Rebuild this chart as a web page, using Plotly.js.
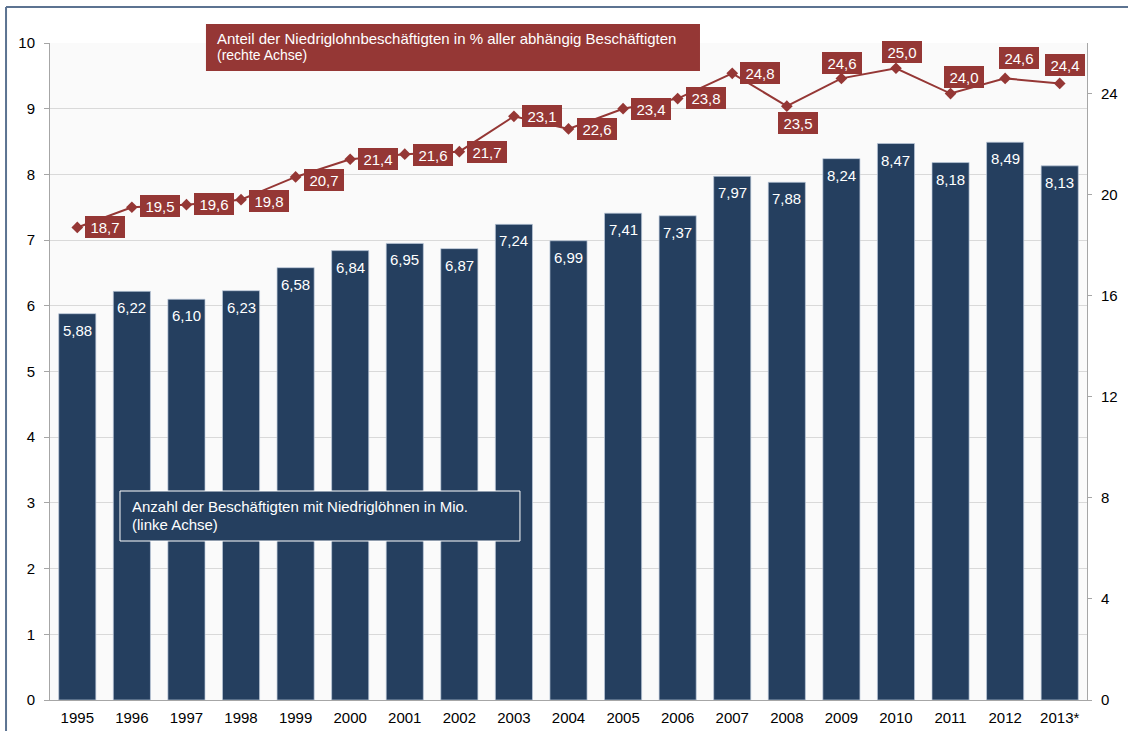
<!DOCTYPE html>
<html>
<head>
<meta charset="utf-8">
<script src="https://cdn.plot.ly/plotly-3.0.1.min.js"></script>
<style>
  html, body { margin: 0; padding: 0; background: #ffffff; }
  #chart { width: 1128px; height: 731px; }
</style>
</head>
<body>
<div id="chart"></div>
<script>
// Niedriglohnbeschäftigte in Deutschland, 1995–2013
const years = ['1995', '1996', '1997', '1998', '1999', '2000', '2001', '2002', '2003', '2004',
    '2005', '2006', '2007', '2008', '2009', '2010', '2011', '2012', '2013*'];
const workersMio = [5.88, 6.22, 6.10, 6.23, 6.58, 6.84, 6.95, 6.87, 7.24, 6.99,
    7.41, 7.37, 7.97, 7.88, 8.24, 8.47, 8.18, 8.49, 8.13];
const sharePct = [18.7, 19.5, 19.6, 19.8, 20.7, 21.4, 21.6, 21.7, 23.1, 22.6,
    23.4, 23.8, 24.8, 23.5, 24.6, 25.0, 24.0, 24.6, 24.4];

const shareTitle = 'Anteil der Niedriglohnbeschäftigten in % aller abhängig Beschäftigten';
const shareNote = '(rechte Achse)';
const workersTitle = 'Anzahl der Beschäftigten mit Niedriglöhnen in Mio.';
const workersNote = '(linke Achse)';

// label box offsets from each line point, in pixels [dx, dy down]
const labelShift = [[28, 0], [28, -1], [28, -1], [28, 1], [28, 3], [28, 0], [28, 1], [28, 0],
    [28, 0], [28, 0], [28, 0], [28, -1], [28, 0], [11, 17], [1, -15], [6, -16], [13, -17],
    [14, -20], [5, -18]];

const NAVY = '#253f5f';
const RED = '#953735';
const AXIS_GREY = '#a6a6a6';
const FONT = 'Liberation Sans, Arial, sans-serif';

const fmt = (v, d) => v.toFixed(d).replace('.', ',');

const bars = {
    type: 'bar',
    x: years,
    y: workersMio,
    marker: { color: NAVY, line: { color: 'rgba(190,202,220,0.7)', width: 1 } },
    hoverinfo: 'x+y',
    showlegend: false,
};

const line = {
    type: 'scatter',
    mode: 'lines+markers',
    x: years,
    y: sharePct,
    yaxis: 'y2',
    line: { color: RED, width: 2 },
    marker: { symbol: 'diamond', size: 9, color: RED },
    hoverinfo: 'x+y',
    showlegend: false,
};

const annotations = [];

// value labels inside the bar tops (x given as category index)
years.forEach((yr, i) => {
    annotations.push({
        x: i, y: workersMio[i], xref: 'x', yref: 'y',
        text: fmt(workersMio[i], 2),
        showarrow: false, yanchor: 'top', yshift: -6,
        font: { family: FONT, size: 15, color: '#ffffff' },
    });
});

// red boxed labels for the share line
years.forEach((yr, i) => {
    annotations.push({
        x: i, y: sharePct[i], xref: 'x', yref: 'y2',
        text: fmt(sharePct[i], 1),
        showarrow: false, xanchor: 'center', yanchor: 'middle',
        xshift: labelShift[i][0], yshift: -labelShift[i][1],
        width: 36, height: 18, borderpad: 2, borderwidth: 0,
        bgcolor: RED,
        font: { family: FONT, size: 15, color: '#ffffff' },
    });
});

// caption texts (boxes are shapes below)
const caption = (text, x, y, size) => ({
    xref: 'paper', yref: 'paper', x: x, y: y,
    xanchor: 'left', yanchor: 'middle', align: 'left',
    text: text, showarrow: false, borderpad: 0, borderwidth: 0,
    font: { family: FONT, size: size, color: '#ffffff' },
});
annotations.push(caption(shareTitle, 0.161, 1.0068, 15));
annotations.push(caption(shareNote, 0.161, 0.981, 14));
annotations.push(caption(workersTitle, 0.0791, 0.2938, 15));
annotations.push(caption(workersNote, 0.0791, 0.2664, 15));

const layout = {
    width: 1128,
    height: 731,
    margin: { l: 50, r: 41, t: 43, b: 31 },
    paper_bgcolor: '#ffffff',
    plot_bgcolor: '#fafafa',
    font: { family: FONT, size: 15, color: '#000000' },
    bargap: 0.32,
    xaxis: {
        type: 'category',
        range: [-0.5, years.length - 0.5],
        showline: true, linecolor: AXIS_GREY, linewidth: 1,
        ticks: '', ticklabelstandoff: 4,
        tickfont: { family: FONT, size: 15, color: '#000000' },
        showgrid: false, zeroline: false,
    },
    yaxis: {
        range: [0, 10], dtick: 1,
        showline: true, linecolor: AXIS_GREY, linewidth: 1,
        ticks: 'outside', ticklen: 5, tickcolor: AXIS_GREY,
        ticklabelstandoff: 6,
        gridcolor: '#d9d9d9', gridwidth: 1, zeroline: false,
        tickfont: { family: FONT, size: 15, color: '#000000' },
    },
    yaxis2: {
        range: [0, 26], dtick: 4,
        overlaying: 'y', side: 'right',
        showline: true, linecolor: AXIS_GREY, linewidth: 1,
        ticks: 'outside', ticklen: 4, tickcolor: AXIS_GREY,
        ticklabelstandoff: 6,
        showgrid: false, zeroline: false,
        tickfont: { family: FONT, size: 15, color: '#000000' },
    },
    shapes: [
        // outer frame
        { type: 'line', xref: 'paper', yref: 'paper', x0: -0.0424, x1: -0.0424, y0: -0.1, y1: 1.0548,
          line: { color: '#5c7391', width: 2 } },
        { type: 'line', xref: 'paper', yref: 'paper', x0: -0.0424, x1: 1.1, y0: 1.0548, y1: 1.0548,
          line: { color: '#5c7391', width: 2 } },
        // caption boxes
        { type: 'rect', layer: 'above', xref: 'paper', yref: 'paper',
          x0: 0.1504, x1: 0.6268, y0: 0.9574, y1: 1.0289,
          fillcolor: RED, line: { width: 0 } },
        { type: 'rect', layer: 'above', xref: 'paper', yref: 'paper',
          x0: 0.0675, x1: 0.4532, y0: 0.2420, y1: 0.3181,
          fillcolor: NAVY, line: { color: '#ffffff', width: 1 } },
    ],
    annotations: annotations,
};

Plotly.newPlot('chart', [bars, line], layout, { displayModeBar: false, staticPlot: true });
</script>
</body>
</html>
